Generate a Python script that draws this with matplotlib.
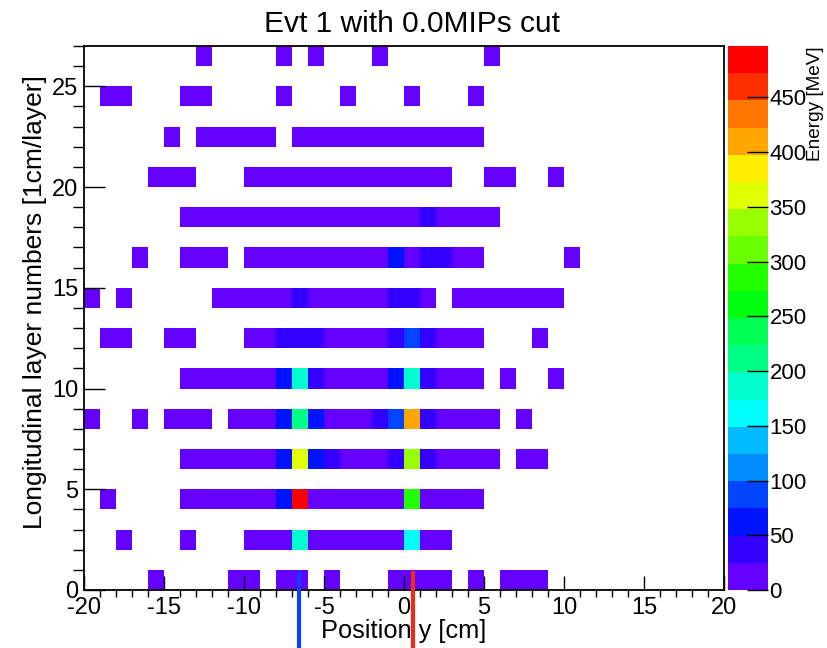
import colorsys
import numpy as np
import matplotlib
matplotlib.use("Agg")
import matplotlib.pyplot as plt
from matplotlib.colors import ListedColormap, Normalize
from matplotlib.ticker import MultipleLocator

plt.rcParams['font.family'] = ['Liberation Sans', 'DejaVu Sans']
plt.rcParams['axes.unicode_minus'] = False

# ---------------- data ----------------
x_edges = np.arange(-20, 21, 1)      # Position y [cm], 1 cm bins
y_edges = np.arange(0, 28, 1)        # layer axis

# each layer: lower edge of x bin, deposited energy [MeV]
layer0_x = [-16, -11, -10, -8, -7, -5, -1, 0, 1, 2, 4, 6, 7, 8]
layer0_e = [10, 12, 9, 14, 16, 8, 11, 18, 13, 9, 7, 10, 12, 8]

layer2_x = [-18, -14, -10, -9, -8, -7, -6, -5, -4, -3, -2, -1, 0, 1, 2]
layer2_e = [8, 10, 12, 14, 20, 186, 18, 12, 10, 9, 11, 20, 162, 15, 9]

layer4_x = [-19, -14, -13, -12, -11, -10, -9, -8, -7, -6, -5, -4, -3, -2, -1, 0, 1, 2, 3, 4]
layer4_e = [9, 10, 12, 13, 11, 14, 18, 62, 497, 20, 15, 12, 13, 14, 22, 286, 20, 14, 10, 8]

layer6_x = [-14, -13, -12, -11, -10, -9, -8, -7, -6, -5, -4, -3, -2, -1, 0, 1, 2, 3, 4, 5, 7, 8]
layer6_e = [9, 11, 12, 14, 15, 20, 62, 360, 62, 37, 18, 16, 20, 37, 335, 37, 18, 14, 12, 9, 10, 8]

layer8_x = [-20, -17, -15, -14, -13, -11, -10, -9, -8, -7, -6, -5, -4, -3, -2, -1, 0, 1, 2, 3, 4, 5, 7]
layer8_e = [8, 9, 10, 11, 12, 13, 15, 20, 62, 211, 62, 18, 16, 20, 37, 87, 410, 37, 20, 15, 12, 10, 9]

layer10_x = [-14, -13, -12, -11, -10, -9, -8, -7, -6, -5, -4, -3, -2, -1, 0, 1, 2, 3, 4, 6, 9]
layer10_e = [9, 11, 12, 14, 16, 20, 62, 186, 37, 18, 15, 14, 20, 62, 186, 37, 18, 14, 10, 9, 8]

layer12_x = [-19, -18, -15, -14, -10, -9, -8, -7, -6, -5, -4, -3, -2, -1, 0, 1, 2, 3, 4, 8]
layer12_e = [8, 9, 10, 11, 14, 20, 37, 37, 37, 20, 16, 15, 20, 37, 87, 37, 18, 14, 10, 8]

layer14_x = [-20, -18, -12, -11, -10, -9, -8, -7, -6, -5, -4, -3, -2, -1, 0, 1, 3, 4, 5, 6, 7, 8, 9]
layer14_e = [8, 9, 10, 11, 13, 15, 20, 37, 20, 16, 15, 14, 20, 37, 37, 18, 12, 11, 10, 10, 9, 9, 8]

layer16_x = [-17, -14, -13, -12, -10, -9, -8, -7, -6, -5, -4, -3, -2, -1, 0, 1, 2, 3, 4, 10]
layer16_e = [8, 9, 10, 11, 12, 13, 15, 17, 18, 16, 15, 14, 20, 62, 20, 37, 37, 18, 12, 8]

layer18_x = [-14, -13, -12, -11, -10, -9, -8, -7, -6, -5, -4, -3, -2, -1, 0, 1, 2, 3, 4, 5]
layer18_e = [8, 9, 10, 11, 12, 13, 14, 15, 16, 15, 14, 15, 18, 20, 22, 37, 18, 14, 11, 9]

layer20_x = [-16, -15, -14, -10, -9, -8, -7, -6, -5, -4, -3, -2, -1, 0, 1, 2, 5, 6, 9]
layer20_e = [8, 9, 8, 10, 11, 12, 13, 14, 14, 13, 14, 16, 18, 20, 15, 12, 9, 8, 7]

layer22_x = [-15, -13, -12, -11, -10, -9, -7, -6, -5, -4, -3, -2, -1, 0, 1, 2, 3, 4]
layer22_e = [8, 9, 10, 10, 11, 12, 12, 13, 13, 14, 14, 15, 16, 18, 14, 12, 10, 9]

layer24_x = [-19, -18, -14, -13, -8, -4, 0, 4]
layer24_e = [7, 8, 9, 10, 12, 11, 14, 9]

layer26_x = [-13, -8, -6, -2, 5]
layer26_e = [8, 10, 9, 11, 8]

layers = [
    (0, layer0_x, layer0_e), (2, layer2_x, layer2_e), (4, layer4_x, layer4_e),
    (6, layer6_x, layer6_e), (8, layer8_x, layer8_e), (10, layer10_x, layer10_e),
    (12, layer12_x, layer12_e), (14, layer14_x, layer14_e), (16, layer16_x, layer16_e),
    (18, layer18_x, layer18_e), (20, layer20_x, layer20_e), (22, layer22_x, layer22_e),
    (24, layer24_x, layer24_e), (26, layer26_x, layer26_e),
]

# beam position markers drawn under the axis
marker_x = [-6.55, 0.55]
marker_colors = ['#1040ff', '#f02a18']

cbar_ticks = [0, 50, 100, 150, 200, 250, 300, 350, 400, 450]

# ---------------- build histogram ----------------
grid = np.zeros((len(y_edges) - 1, len(x_edges) - 1))
for row, xs, es in layers:
    for xb, e in zip(xs, es):
        grid[row, xb - x_edges[0]] = e
masked = np.ma.masked_less_equal(grid, 0)

# ROOT "pretty" palette (SetPalette(1)) sampled with 20 contour levels
ndiv, ncol = 20, 50
pal = []
for j in range(ndiv):
    idx = int((j + 0.99) * ncol / ndiv)
    hue = 280.0 - (idx + 1) * 280.0 / ncol
    pal.append(colorsys.hls_to_rgb(hue / 360.0, 0.5, 1.0))
cmap = ListedColormap(pal)
norm = Normalize(vmin=0, vmax=grid.max())

# ---------------- figure ----------------
W, H = 827, 648
fig = plt.figure(figsize=(W / 100, H / 100), dpi=100)
ax = fig.add_axes([84 / W, 1 - 590 / H, 640 / W, 544 / H])
mesh = ax.pcolormesh(x_edges, y_edges, masked, cmap=cmap, norm=norm)

ax.set_xlim(-20, 20)
ax.set_ylim(0, 27)
ax.set_xticks(np.arange(-20, 21, 5))
ax.set_yticks(np.arange(0, 26, 5))
ax.xaxis.set_minor_locator(MultipleLocator(1))
ax.yaxis.set_minor_locator(MultipleLocator(1))
ax.tick_params(direction='in', top=False, right=False, labelsize=17, width=1.0, colors='black')
ax.tick_params(axis='x', which='major', length=10, pad=5)
ax.tick_params(axis='x', which='minor', length=5, width=1.0)
ax.tick_params(axis='y', which='major', length=15, pad=4)
ax.tick_params(axis='y', which='minor', length=8, width=1.0)
for s in ax.spines.values():
    s.set_linewidth(1.3)

ax.set_title('Evt 1 with 0.0MIPs cut', fontsize=21.5, pad=10, x=0.512)
ax.set_xlabel('Position y [cm]', fontsize=18.3, labelpad=0)
ax.set_ylabel('Longitudinal layer numbers [1cm/layer]', fontsize=19)
ax.yaxis.set_label_coords(-0.058, 0.529)

trans = ax.get_xaxis_transform()
for xm, c in zip(marker_x, marker_colors):
    ax.plot([xm, xm], [0.92 / 27, -0.25], transform=trans, color=c, lw=3.0,
            clip_on=False, zorder=10, solid_capstyle='butt')

# colour bar (ROOT palette axis)
cax = fig.add_axes([728 / W, 1 - 590 / H, 40 / W, 544 / H])
cb = fig.colorbar(mesh, cax=cax)
cb.outline.set_visible(False)
cb.set_ticks(cbar_ticks)
cax.tick_params(direction='in', length=15, width=1.0, labelsize=16, pad=1)
fig.text(815 / W, 1 - 46 / H, 'Energy [MeV]', rotation=90, ha='center', va='top', fontsize=13.7)

fig.savefig('out.png', dpi=100)
